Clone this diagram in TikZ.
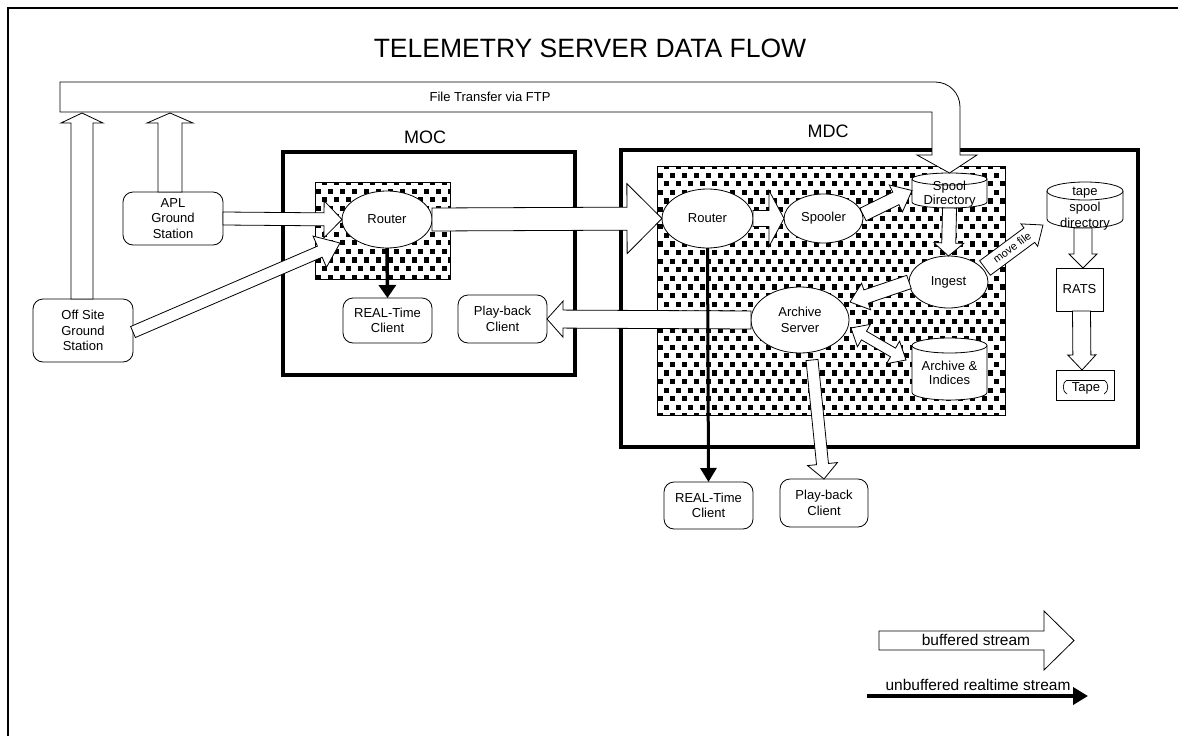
\documentclass[tikz,border=0pt]{standalone}
\usepackage{fontspec}
\setmainfont{Liberation Sans}
\usetikzlibrary{shapes.geometric,arrows.meta,calc}

% wide hollow arrow between two points: [opts]{from}{to}{shaft half width}{head half width}{head length}
\newcommand\blockarrow[6][]{%
  \path[buffered,#1] let \p1=(#2), \p2=(#3),
      \n1={atan2(\y2-\y1,\x2-\x1)}, \n2={veclen(\x2-\x1,\y2-\y1)} in
    [shift={(\p1)}, rotate=\n1]
    (0,#4) -- ({\n2-#6},#4) -- ({\n2-#6},#5) -- (\n2,0)
    -- ({\n2-#6},-#5) -- ({\n2-#6},-#4) -- (0,-#4) -- cycle;}

% hollow arrow with a head at both ends
\newcommand\twowayarrow[6][]{%
  \path[buffered,#1] let \p1=(#2), \p2=(#3),
      \n1={atan2(\y2-\y1,\x2-\x1)}, \n2={veclen(\x2-\x1,\y2-\y1)} in
    [shift={(\p1)}, rotate=\n1]
    (0,0) -- (#6,#5) -- (#6,#4) -- ({\n2-#6},#4) -- ({\n2-#6},#5) -- (\n2,0)
    -- ({\n2-#6},-#5) -- ({\n2-#6},-#4) -- (#6,-#4) -- (#6,-#5) -- cycle;}

% drum (disk store) outline over a frame node: {node}{half width}{ellipse radius}
\newcommand\drum[3]{%
  \draw[drumline] ([yshift=-#3pt]#1.north west) -- ([yshift=#3pt]#1.south west)
     arc[start angle=180,end angle=360,x radius=#2pt,y radius=#3pt]
     -- ([yshift=-#3pt]#1.north east)
     arc[start angle=0,end angle=180,x radius=#2pt,y radius=#3pt] -- cycle;
  \draw[drumline] ([yshift=-#3pt]#1.north west)
     arc[start angle=180,end angle=360,x radius=#2pt,y radius=#3pt];}

% black square dot fill inside a node: {node}{x0}{y0}{columns}{rows}
\newcommand\confetti[5]{%
  \begin{scope}
    \clip (#1.north west) rectangle (#1.south east);
    \foreach \j in {0,...,#5}{\foreach \i in {0,...,#4}{
      \fill ({#2+12*\i+6*mod(\j,2)},{#3+8.6*\j}) rectangle ++(5.2,5.2);}}
  \end{scope}}

\begin{document}
\begin{tikzpicture}[x=1pt,y=-1pt,
  font=\fontsize{13}{15.5}\selectfont,
  rbox/.style={draw, rounded corners=10pt, fill=white, align=center,
    inner sep=0pt, outer sep=0pt, line width=0.8pt},
  oval/.style={ellipse, draw, fill=white, align=center, inner sep=0pt,
    outer sep=0pt, line width=0.8pt},
  sqbox/.style={draw, fill=white, align=center, inner sep=0pt, outer sep=0pt,
    line width=0.8pt},
  site/.style={draw, line width=4pt, inner sep=0pt, outer sep=0pt},
  dotted area/.style={draw, fill=white, line width=0.6pt, inner sep=0pt, outer sep=0pt},
  drumframe/.style={inner sep=0pt, outer sep=0pt},
  drumline/.style={draw, fill=white, line width=0.8pt},
  buffered/.style={draw, fill=white, line width=0.8pt, line join=miter},
  live/.style={line width=3.5pt, -{Triangle[width=17pt,length=13pt]}},
  lbl/.style={inner sep=0pt, align=center}]

\useasboundingbox (0,0) rectangle (1178,736);
\clip (0,0) rectangle (1178,736);
\draw[line width=2.5pt] (8,8) rectangle (1200,760);

\node[lbl] (title) at (590,48) {\fontsize{26.5}{30}\selectfont TELEMETRY SERVER DATA FLOW};

% sites
\node[site, minimum width=292pt, minimum height=223pt] (moc) at (429,263.5) {};
\node[site, minimum width=517pt, minimum height=297pt] (mdc) at (879.5,298.5) {};
\node[lbl] (moclabel) at (425,137) {\fontsize{18}{20}\selectfont MOC};
\node[lbl] (mdclabel) at (828,131) {\fontsize{18}{20}\selectfont MDC};

% dotted process areas
\node[dotted area, minimum width=135pt, minimum height=97pt] (mocarea) at (382.5,230.5) {};
\confetti{mocarea}{310}{180}{12}{12}
\node[dotted area, minimum width=348pt, minimum height=249pt] (mdcarea) at (831,290.5) {};
\confetti{mdcarea}{652}{164}{30}{30}
\draw[line width=0.6pt] (mocarea.north west) rectangle (mocarea.south east);
\draw[line width=0.6pt] (mdcarea.north west) rectangle (mdcarea.south east);

% ground stations and clients
\node[rbox, minimum width=100pt, minimum height=53pt] (apl) at (173,218.5) {APL\\Ground\\Station};
\node[rbox, minimum width=100pt, minimum height=63pt] (offsite) at (83,330.5) {Off Site\\Ground\\Station};
\node[rbox, minimum width=89pt, minimum height=45pt] (mocrt) at (387.5,320.5) {REAL-Time\\Client};
\node[rbox, minimum width=89pt, minimum height=48pt] (mocpb) at (502.5,319) {Play-back\\Client};
\node[rbox, minimum width=89pt, minimum height=47pt] (rt2) at (708.5,505.5) {REAL-Time\\Client};
\node[rbox, minimum width=88pt, minimum height=48pt] (pb2) at (824,503) {Play-back\\Client};

% processes
\node[oval, minimum width=90pt, minimum height=57pt] (mocrouter) at (387,219.5) {Router};
\node[oval, minimum width=91pt, minimum height=59pt] (mdcrouter) at (707.5,218.5) {Router};
\node[oval, minimum width=79pt, minimum height=49pt] (spooler) at (823.5,218.5) {Spooler};
\node[oval, minimum width=79pt, minimum height=52pt] (ingest) at (948.5,282) {Ingest};
\node[oval, minimum width=98pt, minimum height=66pt] (aserver) at (800,320) {Archive\\Server};

% stores
\path node[drumframe, minimum width=75pt, minimum height=35pt] (spool) at (949.5,190.5) {};
\drum{spool}{37.5}{6}
\node[lbl, font=\fontsize{13}{14}\selectfont] (spooltext) at (949.5,194) {Spool\\Directory};
\path node[drumframe, minimum width=76pt, minimum height=46pt] (tapespool) at (1085,205) {};
\drum{tapespool}{38}{9}
\node[lbl, font=\fontsize{13}{16}\selectfont] (tapespooltext) at (1085,208.5) {tape\\spool\\directory};
\path node[drumframe, minimum width=75pt, minimum height=62pt] (aidx) at (949.5,369) {};
\drum{aidx}{37.5}{7.5}
\node[lbl, font=\fontsize{13}{14}\selectfont] (aidxtext) at (949.5,373) {Archive \&\\Indices};

\node[sqbox, minimum width=47pt, minimum height=43pt] (rats) at (1079.5,289.5) {RATS};
\node[sqbox, minimum width=58pt, minimum height=30pt] (tape) at (1085,385) {};
\node[lbl] (tapetext) at (1086,388) {Tape};
\draw[line width=0.7pt] ($(tape)+(-18,-5)$) .. controls ($(tape)+(-23,-3)$) and ($(tape)+(-23,7)$) .. ($(tape)+(-18,9)$);
\draw[line width=0.7pt] ($(tape)+(-18,-5)$) -- ($(tape)+(19,-5)$);
\draw[line width=0.7pt] ($(tape)+(19,-5)$) .. controls ($(tape)+(24,-3)$) and ($(tape)+(24,7)$) .. ($(tape)+(19,9)$);

% FTP band from the ground stations to the spool directory
\coordinate (ftpstart) at (60,97);
\draw[buffered] (60,82) -- (935,82) .. controls (949,82) and (960,93) .. (960,107)
  -- (960,155) -- (977,155) -- (spool.north) -- (917,155) -- (932,155)
  -- (932,112) -- (ftpstart |- 0,112) -- cycle;
\node[lbl, font=\fontsize{13}{14}\selectfont] (ftplabel) at (490,97) {File Transfer via FTP};

\coordinate (up1) at (82,113);
\coordinate (up2) at (170,113);
\blockarrow{[xshift=-1pt]offsite.north}{up1}{11}{21}{10}
\blockarrow{[xshift=-3pt]apl.north}{up2}{12}{23}{10}

% buffered streams
\coordinate (offin) at (340,243);
\blockarrow{apl.east}{mocrouter.west}{6.5}{18.5}{18}
\blockarrow{[yshift=-1.5pt]offsite.east}{offin}{6}{17}{22}
\blockarrow{mocrouter.east}{mdcrouter.west}{11.5}{35}{35}
\blockarrow{mdcrouter.east}{spooler.west}{8}{28}{15}
\blockarrow{[yshift=4pt]spooler.east}{spool.west}{7}{15}{18}
\blockarrow{spool.south}{ingest.north}{7}{15}{13}
\coordinate (mvstart) at ($(ingest.east)+(-3,-14)$);
\coordinate (mvend) at ($(tapespool.west)+(-4,20)$);
\blockarrow{mvstart}{mvend}{9}{14}{17}
\node[lbl, rotate=36.6, font=\fontsize{11}{12}\selectfont] (movefile) at (1012,247.5) {move file};
\blockarrow{[xshift=-2pt]tapespool.south}{[xshift=3.5pt]rats.north}{9}{14}{14}
\blockarrow{[xshift=2pt]rats.south}{[xshift=-3pt]tape.north}{9}{14}{15}
\coordinate (ingin) at ($(aserver.east)+(1,-18)$);
\blockarrow{ingest.west}{ingin}{7}{14}{17}
\coordinate (aso) at ($(aserver.east)+(2,8)$);
\coordinate (aii) at ($(aidx.west)+(-6,-9)$);
\twowayarrow{aso}{aii}{5}{13}{15}
\blockarrow{aserver.west}{mocpb.east}{9}{18}{16}
\coordinate (asb) at ($(aserver.south)+(12,7)$);
\blockarrow{asb}{pb2.north}{6}{15}{15}

% unbuffered realtime streams
\draw[live] (mocrouter.south) -- (mocrt.north);
\draw[live, line width=3pt, -{Triangle[width=16pt,length=14pt]}] (mdcrouter.south) -- (rt2.north);

% legend
\coordinate (lg1) at (879,640.5);
\coordinate (lg2) at (1074,640.5);
\blockarrow{lg1}{lg2}{9.5}{29.5}{30}
\node[lbl, font=\fontsize{15.5}{17}\selectfont] (lgbuf) at (976,640) {buffered stream};
\coordinate (lg3) at (867,696);
\coordinate (lg4) at (1088,696);
\draw[live, line width=4pt, -{Triangle[width=17pt,length=15pt]}] (lg3) -- (lg4);
\node[lbl, font=\fontsize{15.5}{17}\selectfont] (lgunbuf) at (978,685) {unbuffered realtime stream};
\end{tikzpicture}
\end{document}
